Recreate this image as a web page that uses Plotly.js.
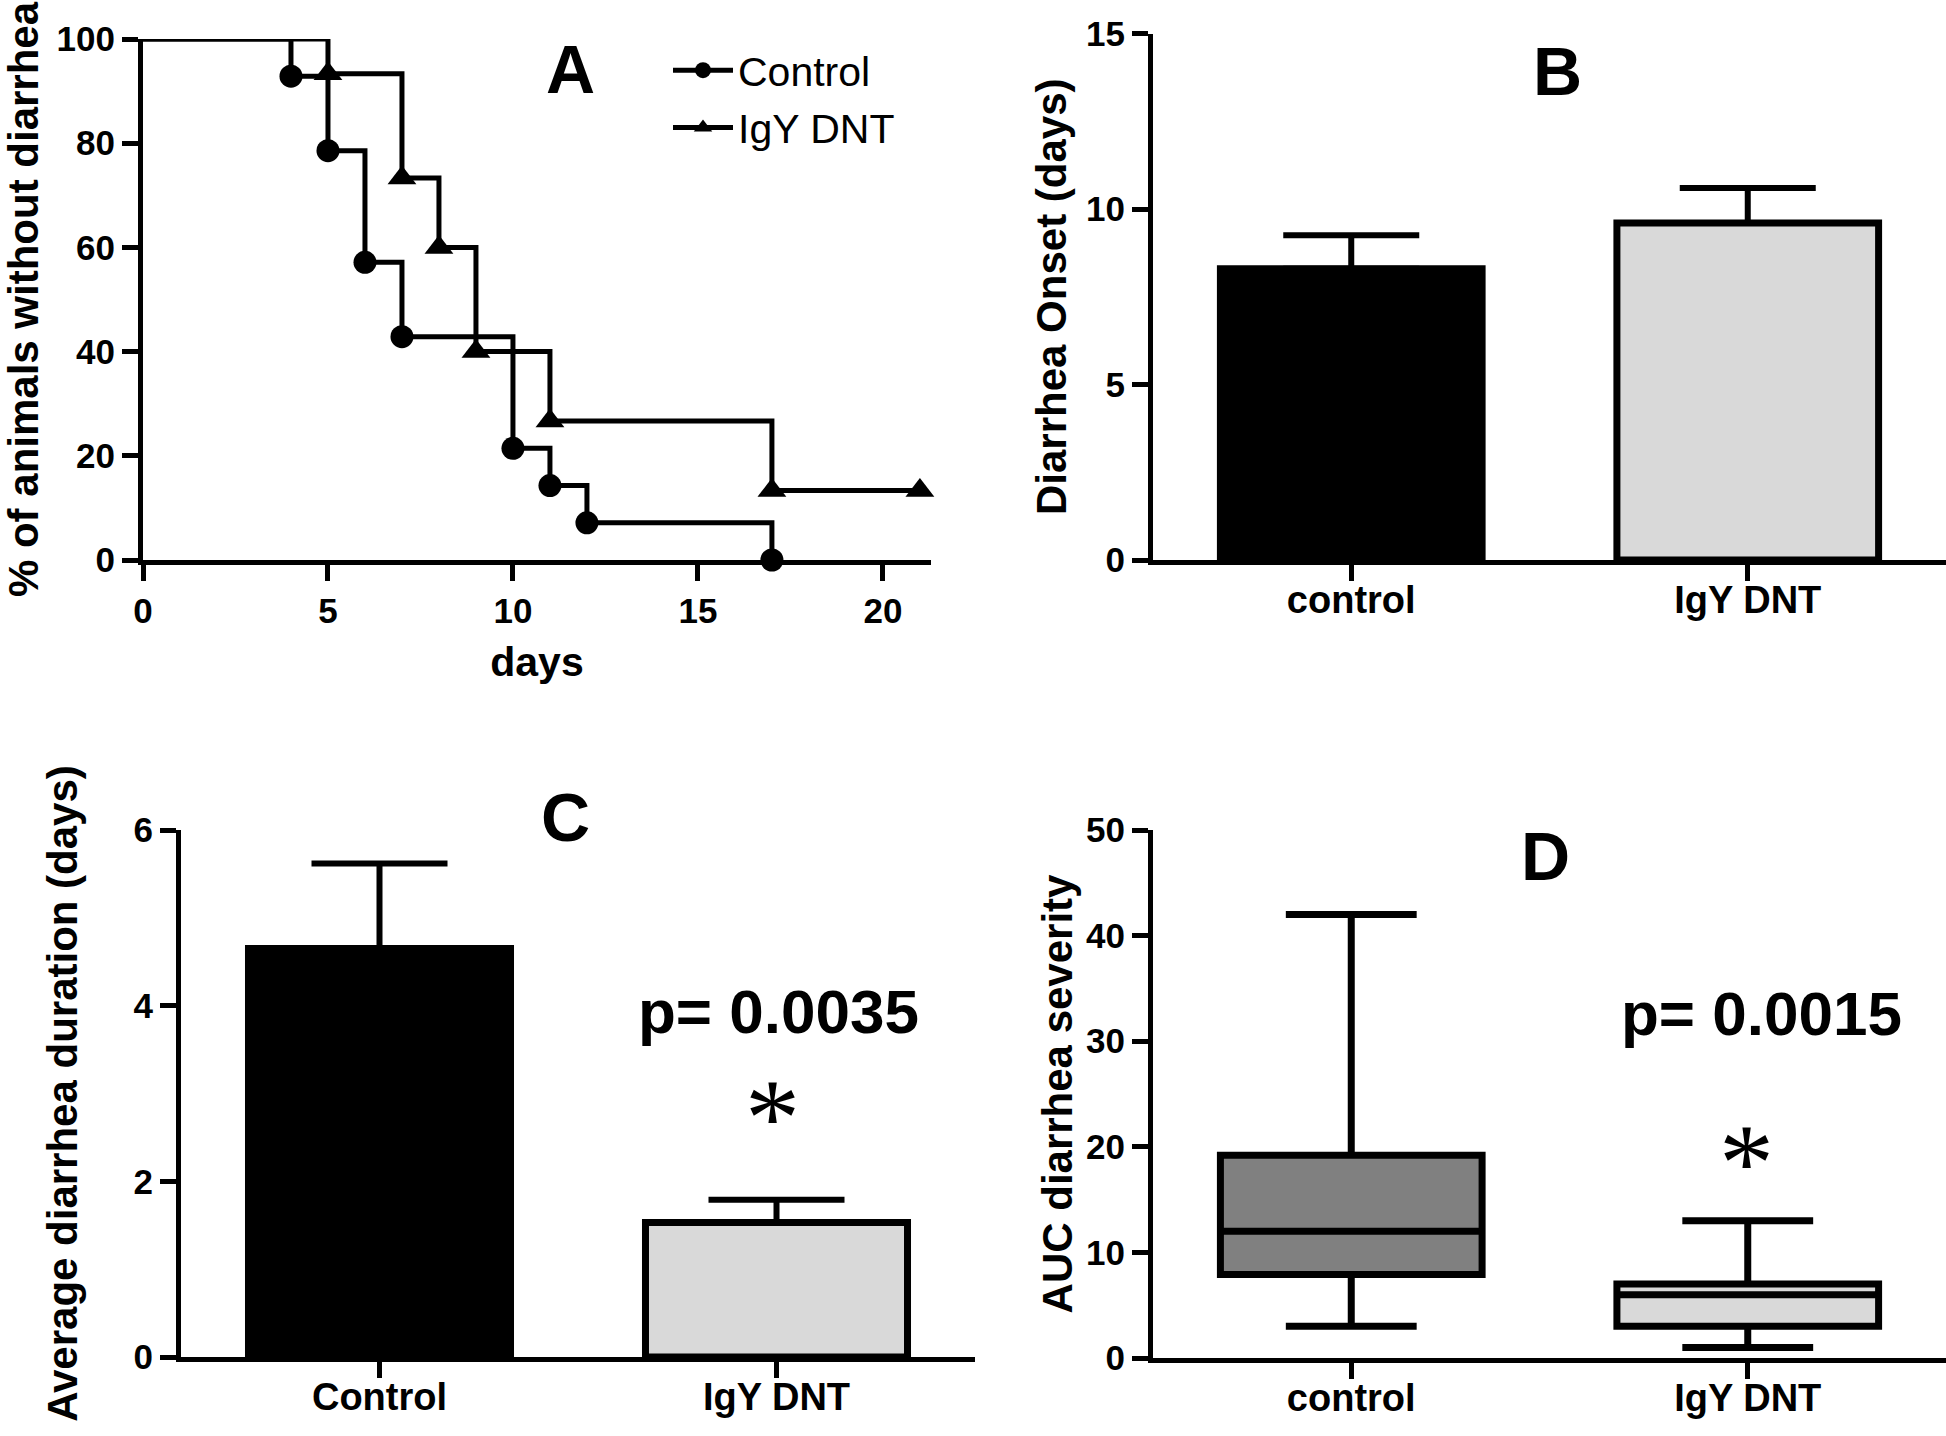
<!DOCTYPE html>
<html><head><meta charset="utf-8">
<script src="https://cdn.plot.ly/plotly-3.0.1.min.js"></script>
<style>html,body{margin:0;padding:0;background:#fff}#chart{width:1946px;height:1436px}</style>
</head><body><div id="chart"></div>
<script>
// ---- Panel A: Kaplan-Meier (% of animals without diarrhea) ----
const controlDays = [0, 4, 5, 6, 7, 10, 11, 12, 17];
const controlPct  = [100, 92.86, 78.57, 57.14, 42.86, 21.43, 14.29, 7.14, 0];
const igyDays     = [0, 5, 7, 8, 9, 11, 17, 21];
const igyPct      = [100, 93.33, 73.33, 60, 40, 26.67, 13.33, 13.33];
const dayTicks    = [0, 5, 10, 15, 20];
const pctTicks    = [0, 20, 40, 60, 80, 100];
// ---- Panel B: Diarrhea onset ----
const groupsLower = ['control', 'IgY DNT'];
const onsetMean   = [8.3, 9.6];
const onsetSem    = [0.95, 1.0];
// ---- Panel C: Average diarrhea duration ----
const groupsUpper  = ['Control', 'IgY DNT'];
const durationMean = [4.65, 1.53];
const durationSem  = [0.97, 0.26];
// ---- Panel D: AUC diarrhea severity (box: min, q1, median, q3, max) ----
const aucMin    = [3, 1];
const aucQ1     = [7.9, 3.0];
const aucMedian = [12, 6];
const aucQ3     = [19.2, 7.0];
const aucMax    = [42, 13];
const pValueC = 'p= 0.0035';
const pValueD = 'p= 0.0015';

const W = 1946, H = 1436;
const px = p => p / W;
const py = p => 1 - p / H;
const FF = 'Liberation Sans, Arial, Helvetica, sans-serif';
const tickFont = {family: FF, size: 35, color: '#000', weight: 'bold'};
const catFont = {family: FF, size: 38, color: '#000', weight: 'bold'};
const titleFont = {family: FF, size: 42, color: '#000', weight: 'bold'};

function axisBase(extra) {
  return Object.assign({
    showline: true, linecolor: '#000', linewidth: 5,
    ticks: 'outside', tickcolor: '#000', tickwidth: 5, ticklen: 16,
    showgrid: false, zeroline: false, automargin: false, fixedrange: true,
    tickfont: tickFont
  }, extra);
}

const controlSizes = controlDays.map((d, i) => i === 0 ? 0 : 23);
const igySizes = igyDays.map((d, i) => i === 0 ? 0 : 25);

const traces = [
  {type: 'scatter', mode: 'lines+markers', name: 'Control', x: controlDays, y: controlPct,
   xaxis: 'x', yaxis: 'y', line: {shape: 'hv', color: '#000', width: 5},
   marker: {symbol: 'circle', size: controlSizes, color: '#000', opacity: 1, line: {width: 0}},
   cliponaxis: false, legendgroup: 'c'},
  {type: 'scatter', mode: 'lines+markers', name: 'IgY DNT', x: igyDays, y: igyPct,
   xaxis: 'x', yaxis: 'y', line: {shape: 'hv', color: '#000', width: 5},
   marker: {symbol: 'triangle-up', size: igySizes, color: '#000', opacity: 1, line: {width: 0}},
   cliponaxis: false, legendgroup: 'i'},
  {type: 'bar', x: groupsLower, y: onsetMean, xaxis: 'x2', yaxis: 'y2', width: 0.66, showlegend: false,
   marker: {color: ['#000000', '#d9d9d9'], line: {color: '#000', width: 7}},
   error_y: {type: 'data', symmetric: false, array: onsetSem, arrayminus: [0, 0], color: '#000', thickness: 6, width: 68}},
  {type: 'bar', x: groupsUpper, y: durationMean, xaxis: 'x3', yaxis: 'y3', width: 0.66, showlegend: false,
   marker: {color: ['#000000', '#d9d9d9'], line: {color: '#000', width: 7}},
   error_y: {type: 'data', symmetric: false, array: durationSem, arrayminus: [0, 0], color: '#000', thickness: 6, width: 68}}
];
const boxFills = ['#808080', '#d9d9d9'];
groupsLower.forEach((g, i) => {
  traces.push({type: 'box', x: [g], q1: [aucQ1[i]], median: [aucMedian[i]], q3: [aucQ3[i]],
    lowerfence: [aucMin[i]], upperfence: [aucMax[i]], xaxis: 'x4', yaxis: 'y4',
    width: 0.66, whiskerwidth: 0.5, fillcolor: boxFills[i], line: {color: '#000', width: 7},
    boxpoints: false, showlegend: false, hoverinfo: 'skip'});
});

function note(text, xPx, yPx, size, extra) {
  return Object.assign({text: text, x: px(xPx), y: py(yPx), xref: 'paper', yref: 'paper',
    xanchor: 'center', yanchor: 'middle', showarrow: false,
    font: {family: FF, size: size, color: '#000', weight: 'bold'}}, extra || {});
}

const layout = {
  width: W, height: H, margin: {l: 0, r: 0, t: 0, b: 0},
  paper_bgcolor: '#fff', plot_bgcolor: 'rgba(0,0,0,0)', showlegend: true,
  font: {family: FF, color: '#000'},
  boxmode: 'overlay',
  legend: {x: px(668), y: py(37), xanchor: 'left', yanchor: 'top', bgcolor: 'rgba(0,0,0,0)',
    font: {family: FF, size: 41, color: '#000'}, itemwidth: 60, tracegroupgap: 1},
  xaxis: axisBase({domain: [px(143), px(931)], range: [0, 21.3], anchor: 'y', tickvals: dayTicks,
    title: {text: 'days', font: {family: FF, size: 41, color: '#000', weight: 'bold'}, standoff: 20}}),
  yaxis: axisBase({domain: [py(560), py(39)], range: [0, 100], anchor: 'x', tickvals: pctTicks,
    title: {text: '% of animals without diarrhea', font: titleFont, standoff: 26}}),
  xaxis2: axisBase({domain: [px(1153), 1], range: [-0.5, 1.5], anchor: 'y2', type: 'category',
    categoryorder: 'array', categoryarray: groupsLower, tickfont: catFont, ticklabelstandoff: -14}),
  yaxis2: axisBase({domain: [py(560), py(33.5)], range: [0, 15], anchor: 'x2', tickvals: [0, 5, 10, 15],
    title: {text: 'Diarrhea Onset (days)', font: titleFont, standoff: 8}}),
  xaxis3: axisBase({domain: [px(181), px(975)], range: [-0.5, 1.5], anchor: 'y3', type: 'category',
    categoryorder: 'array', categoryarray: groupsUpper, tickfont: catFont, ticklabelstandoff: -14}),
  yaxis3: axisBase({domain: [py(1357), py(830)], range: [0, 6], anchor: 'x3', tickvals: [0, 2, 4, 6],
    title: {text: 'Average diarrhea duration (days)', font: titleFont, standoff: 44}}),
  xaxis4: axisBase({domain: [px(1153), 1], range: [-0.5, 1.5], anchor: 'y4', type: 'category',
    categoryorder: 'array', categoryarray: groupsLower, tickfont: catFont, ticklabelstandoff: -14}),
  yaxis4: axisBase({domain: [py(1358), py(830)], range: [0, 50], anchor: 'x4', tickvals: [0, 10, 20, 30, 40, 50],
    title: {text: 'AUC diarrhea severity', font: titleFont, standoff: 2}}),
  annotations: [
    note('A', 570, 69, 68),
    note('B', 1557, 71, 68),
    note('C', 565, 817, 68),
    note('D', 1545, 856, 68),
    note(pValueC, 778, 1011, 62),
    note(pValueD, 1761, 1013, 62),
    note('*', 772, 1118, 110, {font: {family: 'Liberation Serif, serif', size: 110, color: '#000'}}),
    note('*', 1746, 1163, 110, {font: {family: 'Liberation Serif, serif', size: 110, color: '#000'}})
  ]
};

Plotly.newPlot('chart', traces, layout, {displayModeBar: false, staticPlot: true});
</script></body></html>
